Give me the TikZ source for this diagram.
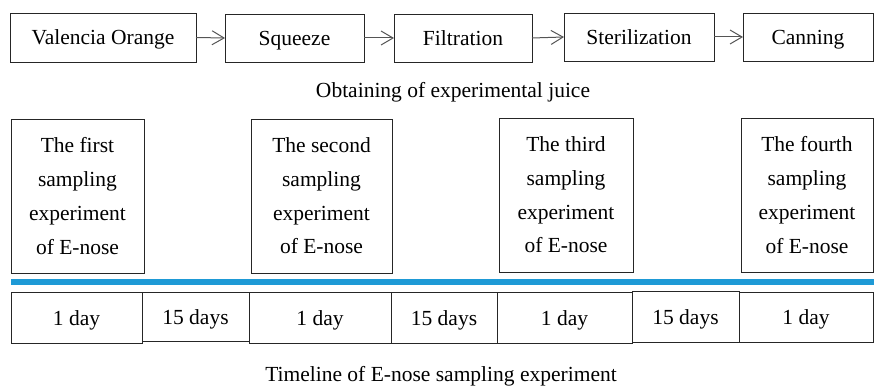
\documentclass[tikz,border=0pt]{standalone}
\usepackage{fontspec}
\setmainfont{Liberation Serif}
\newfontfamily\tnr{Liberation Serif}
\usetikzlibrary{arrows.meta}
\definecolor{tlblue}{HTML}{1E9AD6}
\definecolor{arrgray}{HTML}{555555}
\begin{document}
\begin{tikzpicture}[x=1pt,y=-1pt,
  every node/.style={font=\tnr\fontsize{21.5}{33.7}\selectfont, inner sep=0pt, outer sep=0pt},
  box/.style={draw=black!85, line width=0.9pt, anchor=north west},
  onebox/.style={box, text height=17pt, text depth=2pt},
  multibox/.style={box, align=center},
  flowarr/.style={draw=arrgray, line width=1pt, -{Straight Barb[length=12pt,width=14pt,line width=1pt]}}]
\useasboundingbox (0,0) rectangle (874,385);
% top process row
\node[onebox, minimum width=186pt, minimum height=49pt] (vo) at (10,13) {Valencia Orange};
\node[onebox, minimum width=139pt, minimum height=48pt] (sq) at (225,14) {Squeeze};
\node[onebox, minimum width=138pt, minimum height=48pt] (fi) at (394,14) {Filtration};
\node[onebox, minimum width=150pt, minimum height=48pt] (st) at (564,13) {Sterilization};
\node[onebox, minimum width=130pt, minimum height=48pt] (ca) at (743,13) {Canning};
\draw[flowarr] (vo.east) -- (sq.west);
\draw[flowarr] (sq.east) -- (fi.west);
\draw[flowarr] (fi.east) -- (st.west);
\draw[flowarr] (st.east) -- (ca.west);
\node[text height=15pt, text depth=5pt] (t1) at (453,93) {Obtaining of experimental juice};
% sampling boxes
\node[multibox, minimum width=133pt, minimum height=154pt] (s1) at (11,119) {The first\\sampling\\experiment\\of E-nose};
\node[multibox, minimum width=141pt, minimum height=154pt] (s2) at (251,119) {The second\\sampling\\experiment\\of E-nose};
\node[multibox, minimum width=134pt, minimum height=154pt] (s3) at (499,118) {The third\\sampling\\experiment\\of E-nose};
\node[multibox, minimum width=132pt, minimum height=154pt] (s4) at (741,118) {The fourth\\sampling\\experiment\\of E-nose};
% blue timeline bar
\coordinate (bl) at (11,282);
\coordinate (br) at (874,282);
\draw[tlblue, line width=5.5pt] (bl) -- (br);
% timeline boxes
\node[onebox, minimum width=131pt, minimum height=51pt] (d1) at (11,292) {1 day};
\node[onebox, minimum width=107pt, minimum height=49pt] (g1) at (142,292) {15 days};
\node[onebox, minimum width=142pt, minimum height=51pt] (d2) at (249,292) {1 day};
\node[onebox, minimum width=106pt, minimum height=51pt] (g2) at (391,292) {15 days};
\node[onebox, minimum width=135pt, minimum height=51pt] (d3) at (497,292) {1 day};
\node[onebox, minimum width=107pt, minimum height=51pt] (g3) at (632,291) {15 days};
\node[onebox, minimum width=134pt, minimum height=50pt] (d4) at (739,292) {1 day};
\node[text height=15pt, text depth=5pt] (t2) at (441,376) {Timeline of E-nose sampling experiment};
\end{tikzpicture}
\end{document}
